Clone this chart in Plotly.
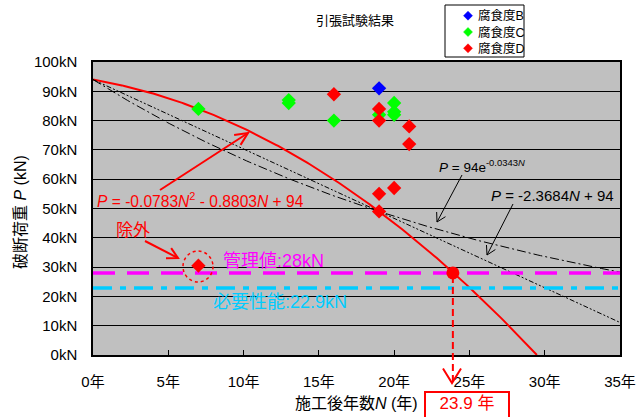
import numpy as np
import plotly.graph_objects as go

# ---- data ----
b_years = [19]
b_loads = [91]
c_years = [7, 13, 13, 16, 19, 20, 20, 20]
c_loads = [84, 87, 86, 80, 82, 86, 83, 82]
d_years = [16, 19, 19, 21, 21, 19, 20, 19]
d_loads = [89, 84, 80, 78, 72, 55, 57, 49]
excluded_year = [7]
excluded_load = [30.5]

quad_coef = [-0.0783, -0.8803, 94]      # P = aN^2 + bN + c
exp_coef = [94, -0.0343]                 # P = A e^(kN)
lin_coef = [-2.3684, 94]                 # P = mN + c
manage_val = 28
required_val = 22.9
cross_year = 23.9

series_names = ["腐食度B", "腐食度C", "腐食度D"]
series_colors = ["#0000FF", "#00FF00", "#FF0000"]
x_ticks = [0, 5, 10, 15, 20, 25, 30, 35]
y_ticks = [0, 10, 20, 30, 40, 50, 60, 70, 80, 90, 100]

FONT = "Liberation Sans, Arial, Noto Sans CJK JP, sans-serif"
L, R, T, B = 93, 620, 62, 355
W, H = 637, 417


def px(x):
    return (x - L) / (R - L)


def py(y):
    return (B - y) / (B - T)


fig = go.Figure()

# trend curves
n_quad_end = (-quad_coef[1] - np.sqrt(quad_coef[1] ** 2 - 4 * quad_coef[0] * quad_coef[2])) / (2 * quad_coef[0])
nq = np.linspace(0, n_quad_end, 200)
fig.add_trace(go.Scatter(x=nq, y=np.polyval(quad_coef, nq), mode="lines",
                         line=dict(color="#FF0000", width=2), showlegend=False, hoverinfo="skip"))
ne = np.linspace(0, 35, 200)
fig.add_trace(go.Scatter(x=ne, y=exp_coef[0] * np.exp(exp_coef[1] * ne), mode="lines",
                         line=dict(color="black", width=1, dash="9px,3px,2px,3px"),
                         showlegend=False, hoverinfo="skip"))
fig.add_trace(go.Scatter(x=ne, y=np.polyval(lin_coef, ne), mode="lines",
                         line=dict(color="black", width=1, dash="5px,2px,2px,2px,2px,2px"),
                         showlegend=False, hoverinfo="skip"))

# reference horizontal lines
fig.add_trace(go.Scatter(x=[0, 35], y=[manage_val, manage_val], mode="lines",
                         line=dict(color="#FF00FF", width=3.5, dash="22px,12px"),
                         showlegend=False, hoverinfo="skip"))
fig.add_trace(go.Scatter(x=[0, 35], y=[required_val, required_val], mode="lines",
                         line=dict(color="#00CCFF", width=3.5, dash="19px,8px,6px,8px"),
                         showlegend=False, hoverinfo="skip"))

# data points
series = [(b_years, b_loads), (c_years, c_loads), (d_years, d_loads)]
for name, col, (xs, ys) in zip(series_names, series_colors, series):
    fig.add_trace(go.Scatter(x=xs, y=ys, mode="markers", name=name, showlegend=False,
                             marker=dict(symbol="diamond", size=11, color=col)))
fig.add_trace(go.Scatter(x=excluded_year, y=excluded_load, mode="markers",
                         marker=dict(symbol="diamond", size=11, color="#FF0000"),
                         showlegend=False))
fig.add_trace(go.Scatter(x=[cross_year], y=[manage_val], mode="markers",
                         marker=dict(symbol="circle", size=13, color="#FF0000"),
                         showlegend=False))

shapes = [
    dict(type="circle", xref="paper", yref="paper",
         x0=px(183), x1=px(213), y0=py(282), y1=py(251),
         line=dict(color="#FF0000", width=1.5, dash="dot")),
    dict(type="line", xref="x", yref="paper", x0=cross_year, x1=cross_year,
         y0=py(276), y1=py(381), line=dict(color="#FF0000", width=2, dash="7px,4px")),
    # legend box
    dict(type="rect", xref="paper", yref="paper", x0=px(445), x1=px(524), y0=py(57), y1=py(5),
         fillcolor="white", line=dict(color="black", width=1)),
]


def arrow(hx, hy, tx, ty, color, width, head=10, half_angle=28, line=True):
    ang = np.arctan2(ty - hy, tx - hx)
    if line:
        shapes.append(dict(type="line", xref="paper", yref="paper",
                           x0=px(tx), y0=py(ty), x1=px(hx), y1=py(hy),
                           line=dict(color=color, width=width)))
    a = np.radians(half_angle)
    p1 = (hx + head * np.cos(ang + a), hy + head * np.sin(ang + a))
    p2 = (hx + head * np.cos(ang - a), hy + head * np.sin(ang - a))
    path = (f"M{px(p1[0])},{py(p1[1])} L{px(hx)},{py(hy)} L{px(p2[0])},{py(p2[1])}")
    shapes.append(dict(type="path", xref="paper", yref="paper", path=path,
                       line=dict(color=color, width=width)))


arrow(248, 133, 160, 190, "#FF0000", 2, head=14, half_angle=25)
arrow(178, 258, 145, 241, "#FF0000", 2, head=12, half_angle=28)
arrow(437, 222, 462, 175, "black", 1, head=10, half_angle=30)
arrow(487, 255, 513, 204, "black", 1, head=10, half_angle=30)
arrow(452, 383, 452, 360, "#FF0000", 2, head=17, half_angle=32, line=False)

ann = []


def text(x, y, s, color="black", size=13, **kw):
    d = dict(xref="paper", yref="paper", x=px(x), y=py(y), text=s, showarrow=False,
             font=dict(family=FONT, size=size, color=color), xanchor="left", yanchor="middle")
    d.update(kw)
    ann.append(d)


# manual legend entries
for i, (name, col) in enumerate(zip(series_names, series_colors)):
    cy = 15.7 + i * 16.3
    cx, r = 468, 4.5
    shapes.append(dict(type="path", xref="paper", yref="paper",
                       path=f"M{px(cx - r)},{py(cy)} L{px(cx)},{py(cy - r)} L{px(cx + r)},{py(cy)} L{px(cx)},{py(cy + r)} Z",
                       fillcolor=col, line=dict(color=col, width=0.5)))
    text(476, cy, name, size=12.5)

text(355, 20, "引張試験結果", size=13, xanchor="center")
text(95, 200, "<i>P</i> = -0.0783<i>N</i><sup>2</sup> - 0.8803<i>N</i> + 94", color="#FF0000", size=15.6)
text(114, 230, "除外", color="#FF0000", size=17)
text(221, 261, "管理値:28kN", color="#FF00FF", size=18)
text(211, 302, "必要性能:22.9kN", color="#00CCFF", size=18)
text(437, 166, "<i>P</i> = 94e<sup>-0.0343<i>N</i></sup>", size=13.5)
text(489, 195, "<i>P</i> = -2.3684<i>N</i> + 94", size=15)
text(20, 212, "破断荷重 <i>P</i> (kN)", size=16, xanchor="center", textangle=-90)
text(356, 403, "施工後年数<i>N</i> (年)", size=16, xanchor="center")
ann.append(dict(xref="paper", yref="paper", x=px(467), y=py(391), text="23.9 年",
                showarrow=False, xanchor="center", yanchor="top",
                font=dict(family=FONT, size=17, color="#FF0000"),
                bordercolor="#FF0000", borderwidth=2, bgcolor="white",
                width=80, height=30, valign="top"))

fig.update_layout(
    width=W, height=H,
    margin=dict(l=L, r=W - R, t=T, b=H - B, pad=0, autoexpand=False),
    paper_bgcolor="white", plot_bgcolor="#C0C0C0",
    font=dict(family=FONT, size=15, color="black"),
    showlegend=False,
    shapes=shapes, annotations=ann,
)
fig.update_xaxes(range=[0, 35], tickvals=x_ticks, ticktext=[f"{v}年" for v in x_ticks],
                 showgrid=False, zeroline=False, showline=True, linecolor="black",
                 linewidth=1.5, mirror=True, ticks="inside", ticklen=5, tickcolor="black",
                 ticklabelstandoff=12,
                 tickfont=dict(family=FONT, size=15))
fig.update_yaxes(range=[0, 100], tickvals=y_ticks, ticktext=[f"{v}kN" for v in y_ticks],
                 showgrid=True, gridcolor="black", gridwidth=1, zeroline=False,
                 showline=True, linecolor="black", linewidth=1.5, mirror=True,
                 ticks="inside", ticklen=5, tickcolor="black",
                 ticklabelstandoff=11,
                 tickfont=dict(family=FONT, size=15))

fig.write_html("out.html", config={"displayModeBar": False},
               post_script="document.body.style.margin='0px';")
